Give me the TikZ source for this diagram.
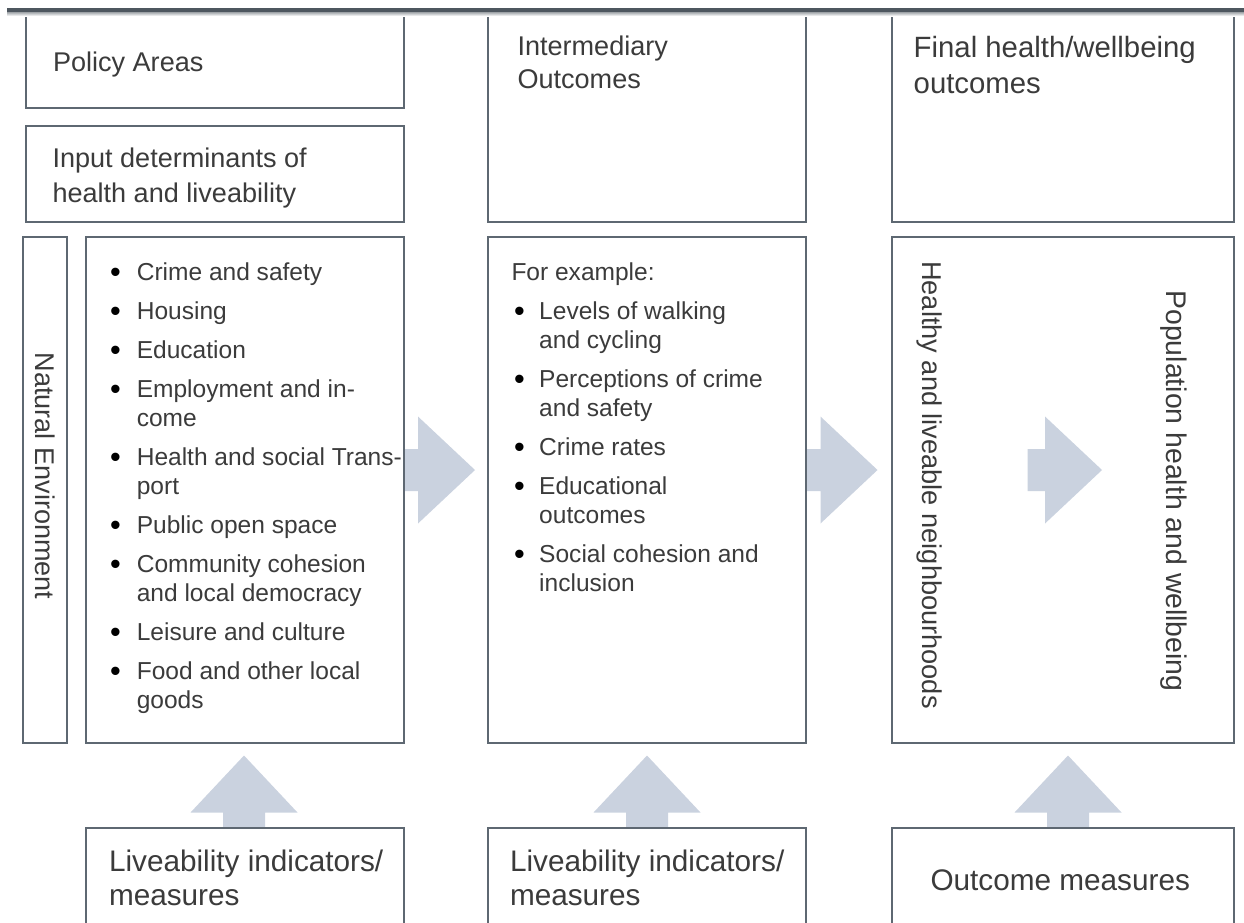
\documentclass[tikz,border=0pt]{standalone}
\usepackage{fontspec}
\setmainfont{Liberation Sans}
\usetikzlibrary{fit,calc}
\definecolor{edge}{HTML}{5E6872}
\definecolor{ink}{HTML}{3B3B3B}
\definecolor{arrowfill}{HTML}{CAD2DF}
\definecolor{rulecol}{HTML}{4E575F}
\pgfdeclarelayer{bg}
\pgfsetlayers{bg,main}
% a slightly heavier list bullet
\newcommand\bigdot{\raisebox{-1.6pt}{\textcolor{black}{\fontsize{23}{0}\selectfont\textbullet}}}

\begin{document}
\begin{tikzpicture}[x=0.75pt,y=-0.75pt,
  box/.style={draw=edge,line width=1.5pt,fill=white,inner sep=0pt,outer sep=0pt},
  lbl/.style={anchor=base west,inner sep=0pt,outer sep=0pt,text=ink},
  hdr/.style={lbl,font=\fontsize{20.3}{26.25}\selectfont},
  hdrtight/.style={lbl,font=\fontsize{20.3}{24.75}\selectfont},
  hdrbig/.style={lbl,font=\fontsize{22}{27}\selectfont},
  foot/.style={lbl,font=\fontsize{22.3}{25.5}\selectfont},
  listtext/.style={lbl,font=\fontsize{18.4}{21.75}\selectfont},
  vert/.style={anchor=center,inner sep=0pt,outer sep=0pt,text=ink,rotate=-90},
  fatarrow/.pic={\fill[arrowfill] (-46,-21) -- (-28.5,-21) -- (-28.5,-53.5)
      -- (28.5,0) -- (-28.5,53.5) -- (-28.5,21) -- (-46,21) -- cycle;}
]
\useasboundingbox (0,0) rectangle (1244,922);
\clip (0,0) rectangle (1244,922);

% column 1: policy areas
\node[box,fit={(26,12)(404,108)}] (pa) {};
\node[box,fit={(26,126)(404,222)}] (ind) {};
\node[box,fit={(23,237)(67,743)}] (ne) {};
\node[box,fit={(86,237)(404,743)}] (l1) {};
% column 2: intermediary outcomes
\node[box,fit={(488,12)(806,222)}] (io) {};
\node[box,fit={(488,237)(806,743)}] (m1) {};
% column 3: final outcomes
\node[box,fit={(892,12)(1234,222)}] (fh) {};
\node[box,fit={(892,237)(1234,743)}] (r1) {};
% measure boxes along the bottom
\node[box,fit={(86,828)(404,950)}] (lb1) {};
\node[box,fit={(488,828)(806,950)}] (lb2) {};
\node[box,fit={(892,828)(1234,950)}] (ob) {};

% block arrows between the columns and up from the measures
\begin{pgfonlayer}{bg}
  \pic at ($(l1.east)!0.5!(m1.west)+(0.5,-20)$) {fatarrow};
  \pic at ($(m1.east)!0.5!(r1.west)+(0,-20)$) {fatarrow};
  \pic[rotate=90] at ($(lb1.north)+(-1,-44)$) {fatarrow};
  \pic[rotate=90] at ($(lb2.north)+(0,-44)$) {fatarrow};
  \pic[rotate=90] at ($(ob.north)+(5,-44)$) {fatarrow};
\end{pgfonlayer}
\pic at ($(r1.center)+(10.5,-20)$) {fatarrow};

% headings
\node[hdr] (tpa) at (53,71) {Policy Areas};
\node[hdr] (tind) at (52.5,167) {\begin{tabular}[t]{@{}l@{}}Input determinants of\\health and liveability\end{tabular}};
\node[hdrtight] (tio) at (517.5,55) {\begin{tabular}[t]{@{}l@{}}Intermediary\\Outcomes\end{tabular}};
\node[hdrbig] (tfh) at (913.7,57) {\begin{tabular}[t]{@{}l@{}}Final health/wellbeing\\outcomes\end{tabular}};

% lists
\node[listtext] (tl1) at (110,280) {\begin{tabular}[t]{@{}l@{}}
\makebox[20.1pt][l]{\bigdot}Crime and safety\\[7.5pt]
\makebox[20.1pt][l]{\bigdot}Housing\\[7.5pt]
\makebox[20.1pt][l]{\bigdot}Education\\[7.5pt]
\makebox[20.1pt][l]{\bigdot}Employment and in-\\
\hspace*{20.1pt}come\\[7.5pt]
\makebox[20.1pt][l]{\bigdot}Health and social Trans-\\
\hspace*{20.1pt}port\\[7.5pt]
\makebox[20.1pt][l]{\bigdot}Public open space\\[7.5pt]
\makebox[20.1pt][l]{\bigdot}Community cohesion\\
\hspace*{20.1pt}and local democracy\\[7.5pt]
\makebox[20.1pt][l]{\bigdot}Leisure and culture\\[7.5pt]
\makebox[20.1pt][l]{\bigdot}Food and other local\\
\hspace*{20.1pt}goods
\end{tabular}};

\node[listtext] (tm1) at (511.5,280) {\begin{tabular}[t]{@{}l@{}}
For example:\\[7.5pt]
\hspace*{1.9pt}\makebox[18.9pt][l]{\bigdot}Levels of walking\\
\hspace*{20.8pt}and cycling\\[7.5pt]
\hspace*{1.9pt}\makebox[18.9pt][l]{\bigdot}Perceptions of crime\\
\hspace*{20.8pt}and safety\\[7.5pt]
\hspace*{1.9pt}\makebox[18.9pt][l]{\bigdot}Crime rates\\[7.5pt]
\hspace*{1.9pt}\makebox[18.9pt][l]{\bigdot}Educational\\
\hspace*{20.8pt}outcomes\\[7.5pt]
\hspace*{1.9pt}\makebox[18.9pt][l]{\bigdot}Social cohesion and\\
\hspace*{20.8pt}inclusion
\end{tabular}};

% vertical labels
\node[vert,font=\fontsize{20.3}{24}\selectfont] (tne) at (45,476) {Natural Environment};
\node[vert,font=\fontsize{20.4}{24}\selectfont] (thn) at (930,485) {Healthy and liveable neighbourhoods};
\node[vert,font=\fontsize{21.3}{25}\selectfont] (tph) at (1174,491) {Population health and wellbeing};

% measure labels
\node[foot] (tlb1) at (109,871) {\begin{tabular}[t]{@{}l@{}}Liveability indicators/\\measures\end{tabular}};
\node[foot] (tlb2) at (510,871) {\begin{tabular}[t]{@{}l@{}}Liveability indicators/\\measures\end{tabular}};
\node[foot] (tob) at (930.5,890) {Outcome measures};

% rule across the top
\fill[rulecol] (7,8) rectangle (1244,12);
\shade[top color=rulecol!55,bottom color=white] (7,12) rectangle (1244,16);
\end{tikzpicture}
\end{document}
